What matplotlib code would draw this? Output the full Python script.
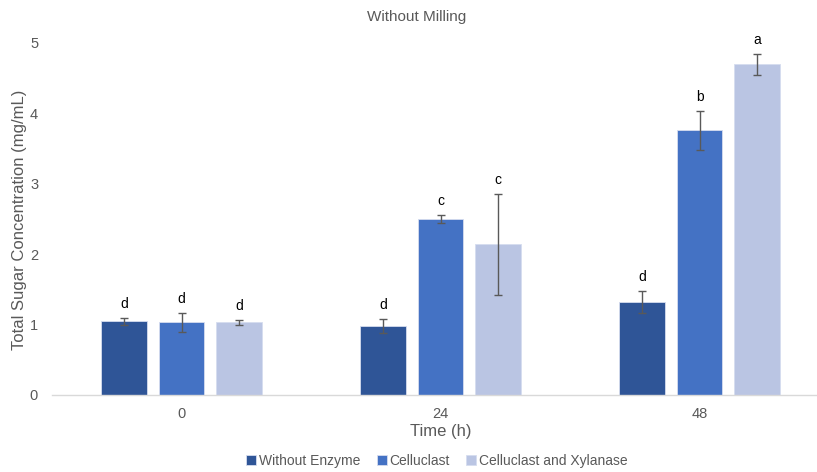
import matplotlib

matplotlib.use("Agg")
import matplotlib.pyplot as plt
import numpy as np

plt.rcParams["font.family"] = ["Liberation Sans", "DejaVu Sans"]

TIMES = ["0", "24", "48"]
SERIES = ["Without Enzyme", "Celluclast", "Celluclast and Xylanase"]
COLORS = ["#2F5597", "#4472C4", "#BAC5E3"]

# mean total sugar (mg/mL) per time point, one list per treatment
MEANS = [
    [1.05, 0.98, 1.32],
    [1.03, 2.50, 3.76],
    [1.03, 2.14, 4.70],
]
ERRORS = [
    [0.05, 0.10, 0.16],
    [0.14, 0.055, 0.28],
    [0.03, 0.72, 0.15],
]
LETTERS = [
    ["d", "d", "d"],
    ["d", "c", "b"],
    ["d", "c", "a"],
]

GREY = "#595959"

fig = plt.figure(figsize=(8.17, 4.72), dpi=100)
ax = fig.add_axes([52 / 817, 77 / 472, 777 / 817, 352 / 472])

x = np.arange(len(TIMES))
width = 0.174
step = 0.222
for i, (name, color) in enumerate(zip(SERIES, COLORS)):
    pos = x + (i - 1) * step
    ax.bar(pos, MEANS[i], width=width, color=color, label=name,
           edgecolor="#D6DDEF", linewidth=0.6, zorder=2)
    ax.errorbar(pos, MEANS[i], yerr=ERRORS[i], fmt="none", ecolor=GREY,
                elinewidth=1.0, capsize=3, capthick=1.0, zorder=3)
    for xp, m, e, lab in zip(pos, MEANS[i], ERRORS[i], LETTERS[i]):
        ax.annotate(lab, (xp, m + e), xytext=(0, 5), textcoords="offset points",
                    ha="center", va="bottom", fontsize=10, color="#000000")

ax.set_xlim(-0.5, 2.5)
ax.set_ylim(0, 5)
ax.set_yticks(range(6))
ax.set_xticks(x)
ax.set_xticklabels(TIMES)
for s in ["top", "right", "left"]:
    ax.spines[s].set_visible(False)
ax.spines["bottom"].set_color("#D9D9D9")
ax.spines["bottom"].set_linewidth(1.0)
ax.tick_params(axis="both", length=0, colors=GREY, labelsize=10.5)
ax.tick_params(axis="y", pad=10)
ax.tick_params(axis="x", pad=9)

ax.set_xlabel("Time (h)", fontsize=12, color=GREY, labelpad=2)
fig.text(20 / 817, 1 - 220 / 472, "Total Sugar Concentration (mg/mL)",
         rotation=90, ha="center", va="center", fontsize=12, color=GREY)
fig.text(417 / 817, 1 - 17 / 472, "Without Milling", ha="center", va="center",
         fontsize=11, color=GREY)

fig.legend(loc="center", bbox_to_anchor=(437 / 817, 1 - 461 / 472), ncol=3,
           frameon=False, fontsize=10, labelcolor=GREY, handlelength=0.7,
           handleheight=0.7, handletextpad=0.2, columnspacing=1.2)

fig.savefig("out.png", dpi=100)
